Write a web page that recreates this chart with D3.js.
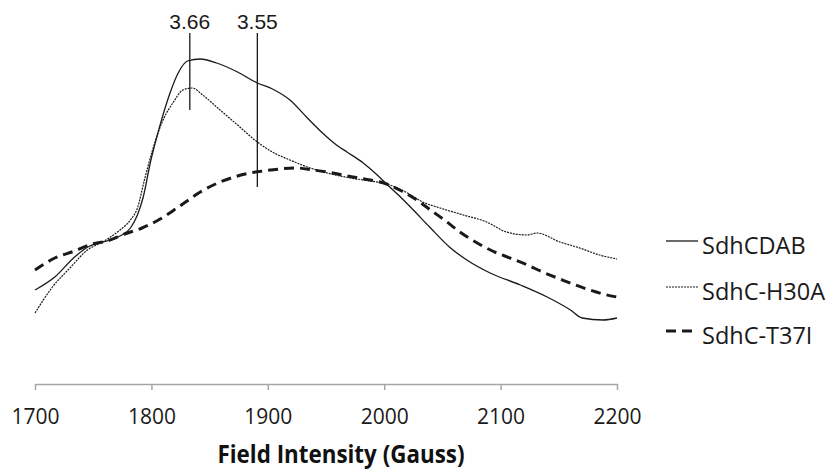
<!DOCTYPE html>
<html>
<head>
<meta charset="utf-8">
<script src="https://cdn.jsdelivr.net/npm/d3@7"></script>
<style>
  body { margin: 0; background: #fff; }
  svg { display: block; }
</style>
</head>
<body>
<svg id="chart" width="830" height="469"></svg>
<script>
// field (G) and EPR signal (arbitrary units)
var cdabField = [1700, 1717, 1734, 1747, 1762, 1773, 1782, 1788, 1793, 1799, 1807, 1816, 1823, 1831, 1842, 1856, 1874, 1891, 1904, 1919, 1934, 1947, 1959, 1968, 1982, 1994, 2002, 2014, 2025, 2039, 2056, 2071, 2091, 2117, 2140, 2160, 2170, 2188, 2200];
var cdabSignal = [94, 107, 127, 138, 143, 148, 156, 169, 187, 221, 257, 291, 311, 323, 325, 321, 312, 301, 295, 284, 266, 251, 239, 232, 221, 209, 200, 187, 174, 157, 137, 124, 111, 99, 87, 74, 66, 64, 66];

var h30aField = [1700, 1715, 1730, 1745, 1758, 1773, 1782, 1788, 1794, 1801, 1810, 1819, 1827, 1835, 1844, 1859, 1874, 1891, 1904, 1919, 1934, 1951, 1971, 1988, 2002, 2020, 2033, 2048, 2068, 2088, 2105, 2123, 2131, 2151, 2168, 2185, 2200];
var h30aSignal = [71, 97, 116, 134, 142, 154, 164, 176, 204, 234, 264, 282, 294, 296, 289, 274, 259, 242, 232, 224, 217, 211, 206, 203, 200, 191, 182, 176, 169, 162, 152, 149, 151, 142, 136, 129, 125];

var t37iField = [1700, 1717, 1734, 1749, 1762, 1777, 1792, 1806, 1822, 1842, 1859, 1874, 1885, 1896, 1910, 1925, 1939, 1956, 1973, 1988, 2002, 2015, 2028, 2041, 2054, 2065, 2080, 2093, 2108, 2123, 2136, 2151, 2162, 2174, 2188, 2200];
var t37iSignal = [114, 126, 133, 140, 143, 150, 156, 164, 176, 192, 202, 208, 211, 213, 215, 216, 214, 211, 207, 204, 200, 193, 184, 173, 162, 152, 141, 133, 126, 119, 112, 105, 100, 95, 90, 87];

var seriesNames = ['SdhCDAB', 'SdhC-H30A', 'SdhC-T37I'];
var xTicks = [1700, 1800, 1900, 2000, 2100, 2200];

// g-value markers
var markerLabels = ['3.66', '3.55'];
var markerField = [1833, 1891];
var markerTop = [351, 351];
var markerBottom = [274, 197];

var svg = d3.select('#chart');
var margin = { left: 35, right: 213, top: 0, bottom: 85 };
var width = 830, height = 469;

var x = d3.scaleLinear().domain([1700, 2200]).range([margin.left, width - margin.right]);
var y = d3.scaleLinear().domain([0, 384]).range([height - margin.bottom, height - margin.bottom - 384]);

var styles = [
  { width: 1.3, dash: null },
  { width: 1.2, dash: '2,1' },
  { width: 3, dash: '10,6' }
];

var series = [
  cdabField.map(function (f, i) { return [f, cdabSignal[i]]; }),
  h30aField.map(function (f, i) { return [f, h30aSignal[i]]; }),
  t37iField.map(function (f, i) { return [f, t37iSignal[i]]; })
];

var line = d3.line()
  .x(function (d) { return x(d[0]); })
  .y(function (d) { return y(d[1]); })
  .curve(d3.curveMonotoneX);

svg.append('g').attr('class', 'lines')
  .selectAll('path')
  .data(series)
  .enter()
  .append('path')
  .attr('d', line)
  .attr('fill', 'none')
  .attr('stroke', '#1a1a1a')
  .attr('stroke-width', function (d, i) { return styles[i].width; })
  .attr('stroke-dasharray', function (d, i) { return styles[i].dash; });

// marker lines + labels
var markers = svg.append('g').attr('class', 'markers')
  .selectAll('g')
  .data(markerLabels)
  .enter()
  .append('g');
markers.append('line')
  .attr('x1', function (d, i) { return x(markerField[i]); })
  .attr('x2', function (d, i) { return x(markerField[i]); })
  .attr('y1', function (d, i) { return y(markerTop[i]); })
  .attr('y2', function (d, i) { return y(markerBottom[i]); })
  .attr('stroke', '#1a1a1a')
  .attr('stroke-width', 1.3);
markers.append('text')
  .attr('x', function (d, i) { return x(markerField[i]); })
  .attr('y', 29)
  .attr('text-anchor', 'middle')
  .attr('font-family', 'Liberation Sans, Arial, sans-serif')
  .attr('font-size', 21)
  .attr('fill', '#1a1a1a')
  .text(function (d) { return d; });

// x axis
var axis = svg.append('g')
  .attr('transform', 'translate(0,' + y(0) + ')')
  .call(d3.axisBottom(x).tickValues(xTicks).tickSize(6).tickSizeOuter(0).tickPadding(19).tickFormat(d3.format('d')));
axis.select('.domain').attr('stroke', '#a6a6a6').attr('stroke-width', 1.5);
axis.selectAll('.tick line').attr('stroke', '#a6a6a6').attr('stroke-width', 1.5);
axis.selectAll('.tick text')
  .attr('font-family', 'Open Sans, sans-serif')
  .attr('font-size', 21)
  .attr('fill', '#1a1a1a');

svg.append('text')
  .attr('x', 341)
  .attr('y', 463)
  .attr('text-anchor', 'middle')
  .attr('font-family', 'Open Sans, sans-serif')
  .attr('font-weight', 'bold')
  .attr('font-size', 25)
  .attr('textLength', 247)
  .attr('lengthAdjust', 'spacingAndGlyphs')
  .attr('fill', '#111')
  .text('Field Intensity (Gauss)');

// legend
var legendY = [241, 287, 331];
var legend = svg.append('g').attr('class', 'legend')
  .selectAll('g')
  .data(seriesNames)
  .enter()
  .append('g')
  .attr('transform', function (d, i) { return 'translate(666,' + legendY[i] + ')'; });
legend.append('line')
  .attr('x1', 0).attr('x2', 32)
  .attr('stroke', '#1a1a1a')
  .attr('stroke-width', function (d, i) { return styles[i].width; })
  .attr('stroke-dasharray', function (d, i) { return styles[i].dash; });
legend.append('text')
  .attr('x', 36)
  .attr('y', 13)
  .attr('font-family', 'Open Sans, sans-serif')
  .attr('font-size', 23.5)
  .attr('fill', '#1a1a1a')
  .text(function (d) { return d; });
</script>
</body>
</html>
